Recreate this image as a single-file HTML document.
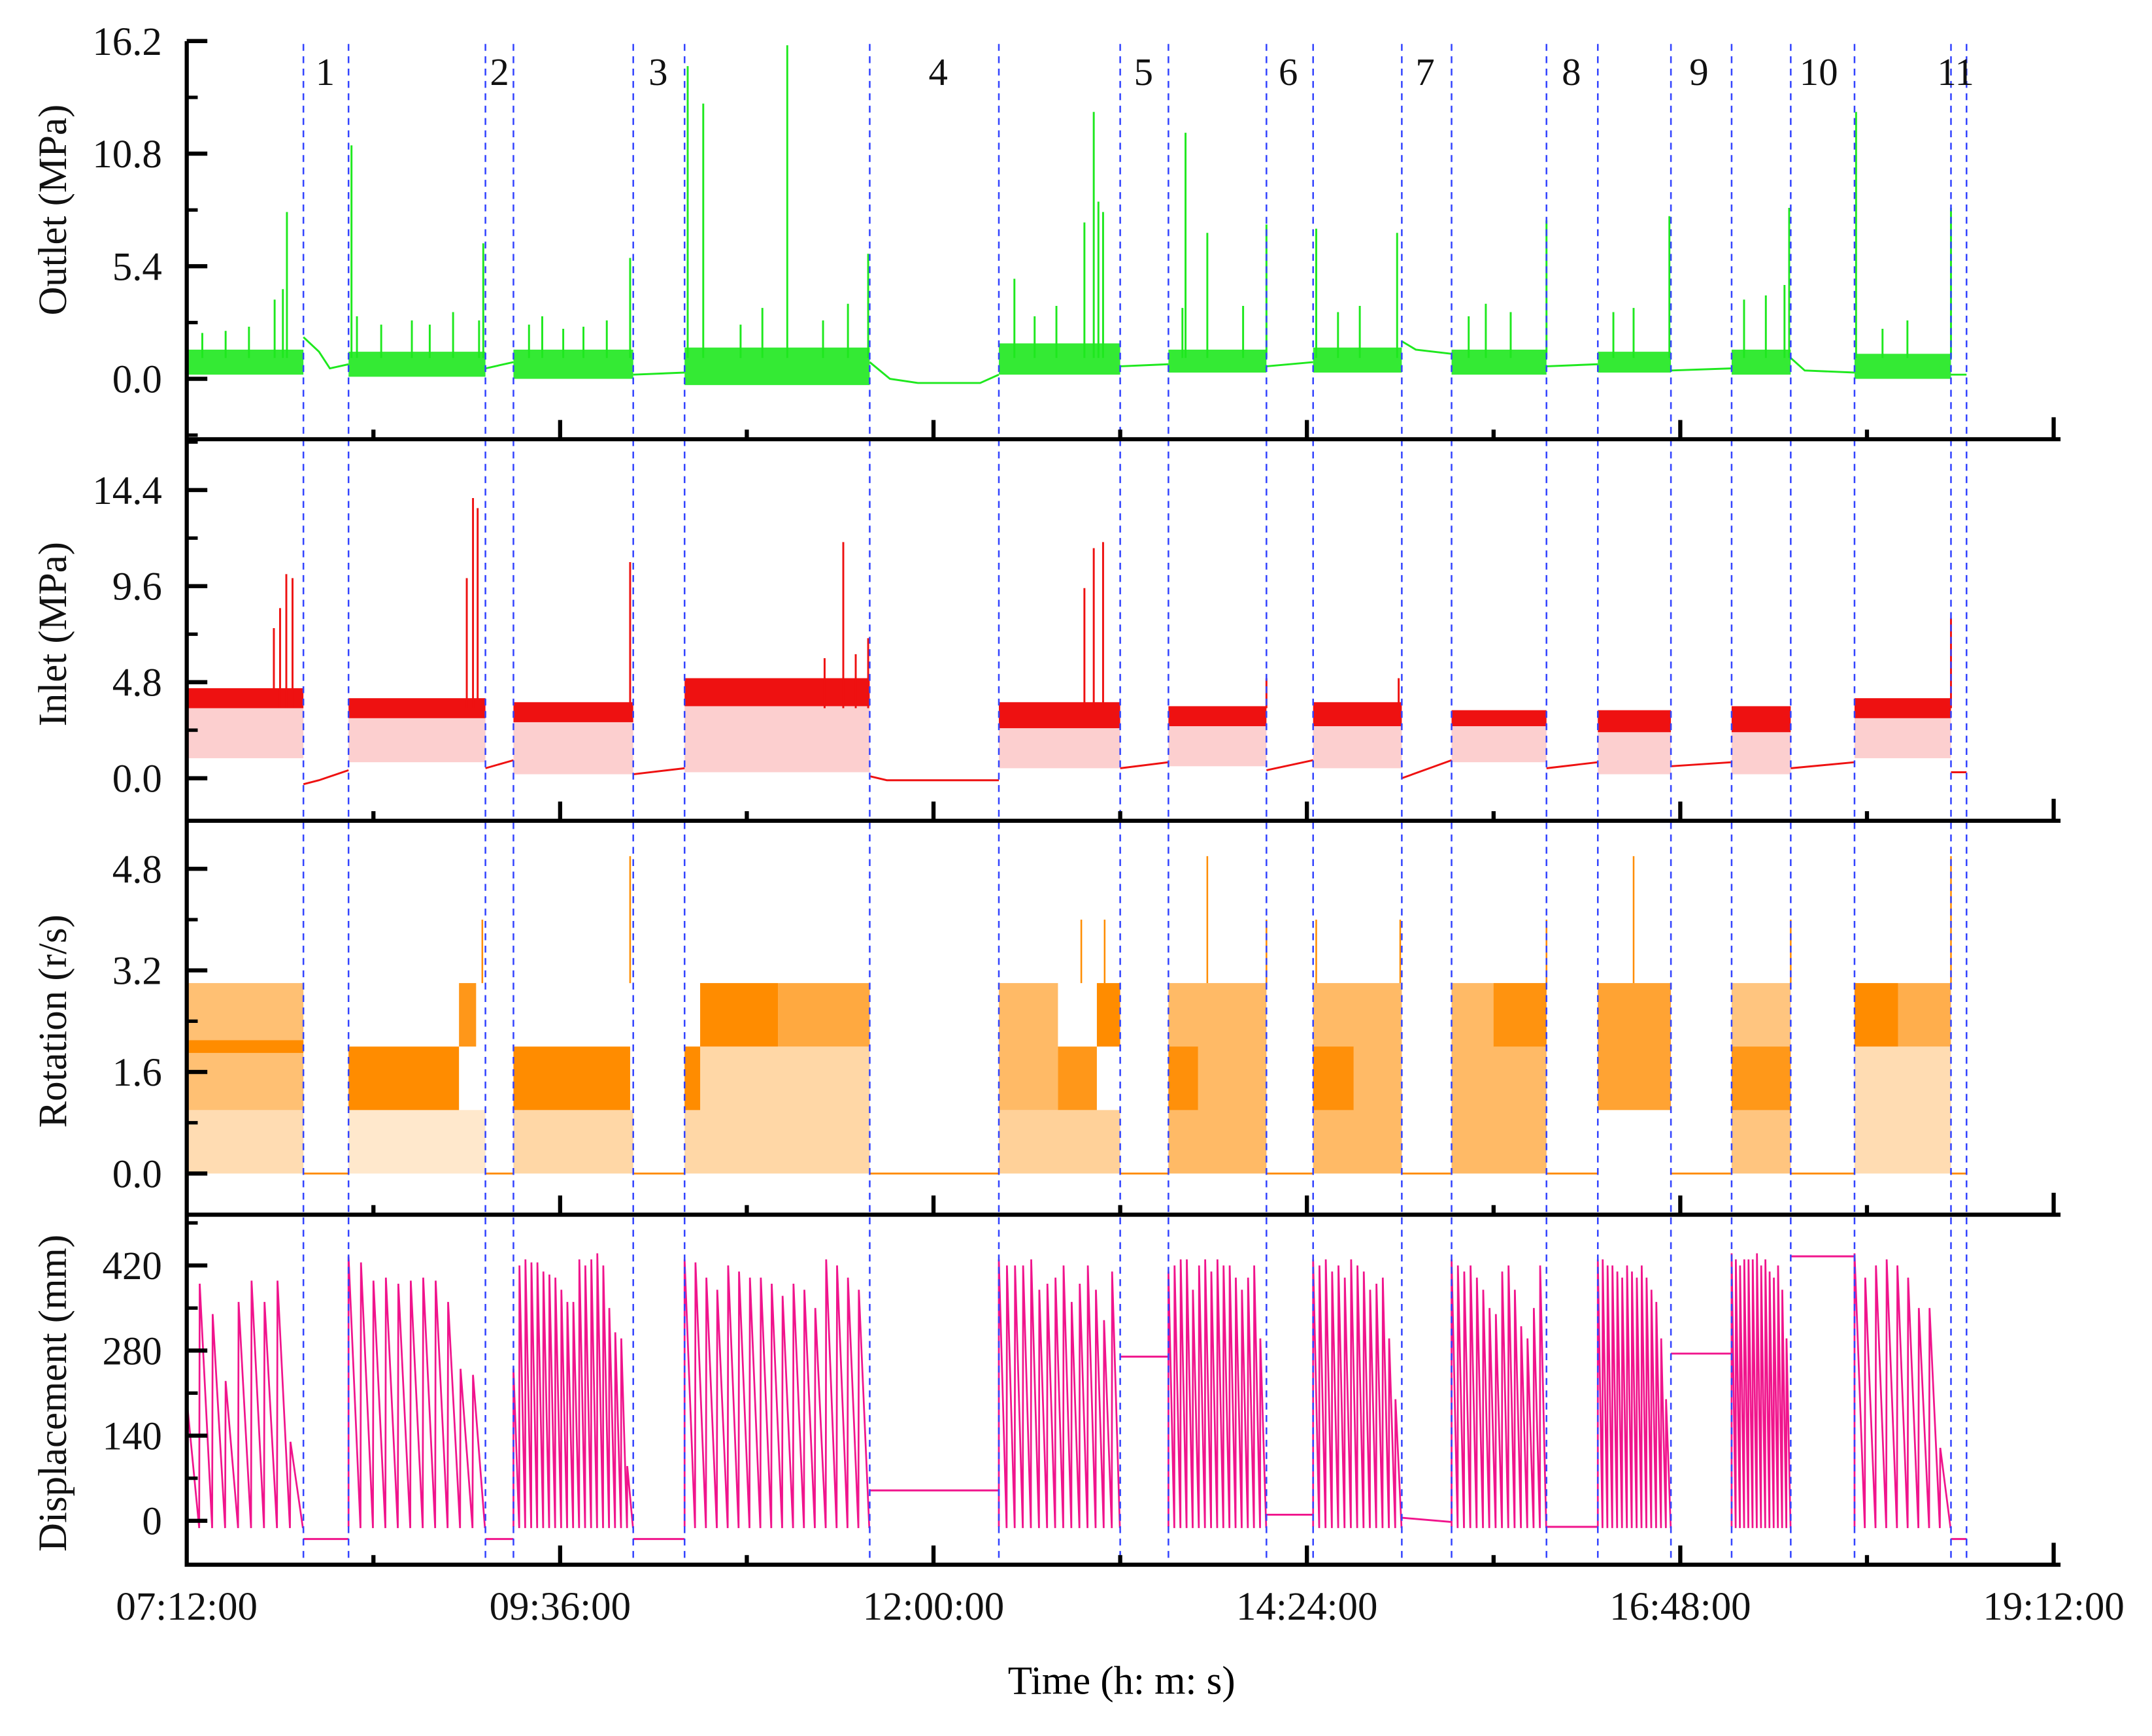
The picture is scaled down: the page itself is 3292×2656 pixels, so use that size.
<!DOCTYPE html>
<html><head><meta charset="utf-8"><style>
html,body{margin:0;padding:0;background:#fff;}
svg{display:block;font-family:"Liberation Serif",serif;}
</style></head><body>
<svg id="chart" width="3292" height="2656" viewBox="0 0 1567.6 1264.8" xmlns="http://www.w3.org/2000/svg">
<text x="817" y="1234" font-size="29" text-anchor="middle">Time (h: m: s)</text>
</svg>
<script>
// ---- data (time in hours of day) ----
const xTickLabels=["07:12:00","09:36:00","12:00:00","14:24:00","16:48:00","19:12:00"];
const xTickHours=[7.2,9.6,12.0,14.4,16.8,19.2];
const dashedHours=[7.95,8.24,9.12,9.30,10.07,10.40,11.59,12.42,13.20,13.51,14.14,14.44,15.01,15.33,15.94,16.27,16.74,17.13,17.51,17.92,18.54,18.64];
const segLabels=["1","2","3","4","5","6","7","8","9","10","11"];
const segLabelHours=[8.09,9.21,10.23,12.03,13.35,14.28,15.16,16.1,16.92,17.69,18.57];
const activeSegs=[[7.2,7.95],[8.24,9.12],[9.30,10.07],[10.40,11.59],[12.42,13.20],[13.51,14.14],[14.44,15.01],[15.33,15.94],[16.27,16.74],[17.13,17.51],[17.92,18.54]];
// outlet
const outTicks=[0.0,5.4,10.8,16.2];
const outBands=[[0.2,1.4],[0.1,1.3],[0.0,1.4],[-0.3,1.5],[0.2,1.7],[0.3,1.4],[0.3,1.5],[0.2,1.4],[0.3,1.3],[0.2,1.4],[0.0,1.2]];
const outIdle=[[[7.95,2.0],[8.05,1.3],[8.12,0.5],[8.24,0.7]],[[9.12,0.5],[9.30,0.8]],[[10.07,0.2],[10.40,0.3]],[[11.59,0.8],[11.72,0.0],[11.9,-0.2],[12.3,-0.2],[12.42,0.2]],[[13.20,0.6],[13.51,0.7]],[[14.14,0.6],[14.44,0.8]],[[15.01,1.8],[15.1,1.4],[15.33,1.2]],[[15.94,0.6],[16.27,0.7]],[[16.74,0.4],[17.13,0.5]],[[17.51,1.0],[17.6,0.4],[17.92,0.3]],[[18.54,0.2],[18.64,0.2]]];
const outSpikeT=[7.3,7.45,7.6,7.765,7.818,7.844,8.259,8.294,8.45,8.647,8.762,8.912,9.079,9.106,9.4,9.485,9.62,9.750,9.9,10.05,10.42,10.52,10.76,10.9,11.06,11.29,11.45,11.58,12.52,12.65,12.79,12.97,13.03,13.06,13.09,13.6,13.62,13.76,13.99,14.14,14.46,14.6,14.74,14.98,15.44,15.55,15.71,15.94,16.37,16.5,16.73,17.21,17.35,17.47,17.50,17.93,18.1,18.26,18.54];
const outSpikeV=[2.2,2.3,2.5,3.8,4.3,8.0,11.2,3.0,2.6,2.8,2.6,3.2,2.8,6.5,2.6,3.0,2.4,2.5,2.8,5.8,15.0,13.2,2.6,3.4,16.0,2.8,3.6,6.0,4.8,3.0,3.5,7.5,12.8,8.5,8.0,3.4,11.8,7.0,3.5,7.4,7.2,3.2,3.5,7.0,3.0,3.6,3.2,7.6,3.2,3.4,7.8,3.8,4.0,4.5,8.2,12.8,2.4,2.8,8.2];
// inlet
const inTicks=[0.0,4.8,9.6,14.4];
const inBands=[[1.0,3.5,4.5],[0.8,3.0,4.0],[0.2,2.8,3.8],[0.3,3.6,5.0],[0.5,2.5,3.8],[0.6,2.6,3.6],[0.5,2.6,3.8],[0.8,2.6,3.4],[0.2,2.3,3.4],[0.2,2.3,3.6],[1.0,3.0,4.0]];
const inIdle=[[[7.95,-0.3],[8.05,-0.1],[8.24,0.4]],[[9.12,0.5],[9.30,0.9]],[[10.07,0.2],[10.40,0.5]],[[11.59,0.1],[11.7,-0.1],[12.42,-0.1]],[[13.20,0.5],[13.51,0.8]],[[14.14,0.4],[14.44,0.9]],[[15.01,0.0],[15.33,0.9]],[[15.94,0.5],[16.27,0.8]],[[16.74,0.6],[17.13,0.8]],[[17.51,0.5],[17.92,0.8]],[[18.54,0.3],[18.64,0.3]]];
const inSpikeT=[7.76,7.8,7.84,7.88,9.0,9.04,9.07,10.05,11.3,11.42,11.5,11.58,12.97,13.03,13.09,14.14,14.99,18.54];
const inSpikeV=[7.5,8.5,10.2,10.0,10.0,14.0,13.5,10.8,6.0,11.8,6.2,7.0,9.5,11.5,11.8,5.0,5.0,8.0];
// rotation
const rotTicks=[0.0,1.6,3.2,4.8];
const rotBlockT0=[7.2,7.2,7.2,8.24,8.95,8.24,9.30,9.30,10.40,10.50,11.0,10.40,12.42,12.8,13.05,12.42,13.51,13.51,14.44,14.44,15.33,15.6,16.27,17.13,17.13,17.92,18.2,17.92];
const rotBlockT1=[7.95,7.95,7.95,8.95,9.06,9.12,10.05,10.07,10.50,11.0,11.59,11.59,12.8,13.05,13.2,13.2,14.14,13.7,15.01,14.7,15.94,15.94,16.74,17.51,17.51,18.2,18.54,18.54];
const rotBlockLo=[1,0,1.9,1,2,0,1,0,1,2,2,0,1,1,2,0,0,1,0,1,0,2,1,0,1,2,2,0];
const rotBlockHi=[3,1,2.1,2,3,1,2,1,2,3,3,2,3,2,3,1,3,2,3,2,3,3,3,3,2,3,3,2];
const rotBlockAlpha=[0.55,0.3,1,1,0.9,0.2,1,0.35,1,1,0.75,0.35,0.6,0.9,1,0.4,0.6,0.9,0.6,0.9,0.6,0.85,0.8,0.5,0.8,1,0.7,0.3];
const rotIdle=[[[7.95,0],[8.24,0]],[[9.12,0],[9.30,0]],[[10.07,0],[10.40,0]],[[11.59,0],[12.42,0]],[[13.20,0],[13.51,0]],[[14.14,0],[14.44,0]],[[15.01,0],[15.33,0]],[[15.94,0],[16.27,0]],[[16.74,0],[17.13,0]],[[17.51,0],[17.92,0]],[[18.54,0],[18.64,0]]];
const rotSpikeT=[9.1,10.05,12.95,13.1,13.76,14.14,14.46,15.0,15.94,16.5,17.51,18.54];
const rotSpikeV=[4.0,5.0,4.0,4.0,5.0,4.0,4.0,4.0,4.0,5.0,4.0,5.0];
// displacement
const dispTicks=[0,140,280,420];
const dispPeaks=[
 [200,390,340,230,360,395,360,395,130],
 [435,425,395,400,390,395,400,395,360,250,240],
 [250,420,430,425,425,410,405,400,380,360,360,430,420,430,440,420,350,310,300,90],
 [430,425,400,380,420,410,400,400,390,370,390,380,350,430,420,400,380],
 [430,420,420,420,430,380,390,400,420,360,390,420,380,330,410],
 [410,420,430,430,380,420,430,410,430,420,420,400,380,400,420,300],
 [430,420,430,410,420,400,430,420,410,380,390,400,300,200],
 [430,420,410,420,400,380,350,340,410,420,380,320,300,350,420],
 [430,430,420,420,410,400,420,410,400,420,400,380,360,300,200],
 [440,430,420,430,430,430,440,420,430,410,400,420,380,300],
 [440,400,420,430,420,400,350,350,120]
];
const dispIdle=[[[7.95,-30],[8.24,-30]],[[9.12,-30],[9.30,-30]],[[10.07,-30],[10.40,-30]],[[11.59,50],[12.42,50]],[[13.20,270],[13.51,270]],[[14.14,10],[14.44,10]],[[15.01,5],[15.33,-2]],[[15.94,-10],[16.27,-10]],[[16.74,275],[17.13,275]],[[17.51,435],[17.92,435]],[[18.54,-30],[18.64,-30]]];

// ---- scales ----
const X0=136, PXH=113.333;
function xs(t){return X0+(t-7.2)*PXH;}
function yOut(v){return 276-15.19*v;}
function yIn(v){return 567-14.58*v;}
function yRot(v){return 855-46.25*v;}
function yDisp(v){return 1108-0.4429*v;}
const NS="http://www.w3.org/2000/svg";
const svg=document.getElementById('chart');
function mk(tag,attrs,parent){const e=document.createElementNS(NS,tag);for(const k in attrs)e.setAttribute(k,attrs[k]);(parent||svg).appendChild(e);return e;}
function grp(name){const g=document.createElementNS(NS,'g');svg.appendChild(g);return g;}
function idleLines(g,idle,yf,color){
  idle.forEach(seg=>{
    const pl=mk('polyline',{points:seg.map(p=>xs(p[0])+','+yf(p[1])).join(' '),fill:'none',stroke:color,'stroke-width':1.4},g);
    
    
  });
}

function drawPanel(name,color,yf,bands3,bands2,idle,spT,spV){
  const g=grp(name+'-series');
  activeSegs.forEach((s,i)=>{
    if(bands3){const b=bands3[i];
      const r1=mk('rect',{x:xs(s[0]),y:yf(b[1]),width:xs(s[1])-xs(s[0]),height:yf(b[0])-yf(b[1]),fill:color,opacity:0.2},g);
      
      
      const r2=mk('rect',{x:xs(s[0]),y:yf(b[2]),width:xs(s[1])-xs(s[0]),height:yf(b[1])-yf(b[2]),fill:color},g);
      
      
    } else if(bands2){const b=bands2[i];
      const r=mk('rect',{x:xs(s[0]),y:yf(b[1]),width:xs(s[1])-xs(s[0]),height:yf(b[0])-yf(b[1]),fill:color,opacity:0.9},g);
      
      
    }
  });
  idleLines(g,idle,yf,color);
  spT.forEach((t,i)=>{
    const base=bands3?yf(3.5):yf(1.0);
    const l=mk('line',{x1:xs(t),x2:xs(t),y1:base,y2:yf(spV[i]),stroke:color,'stroke-width':1.4},g);
    
    
  });
}
drawPanel('outlet','#1ee81e',yOut,null,outBands,outIdle,outSpikeT,outSpikeV);
drawPanel('inlet','#ee1111',yIn,inBands,null,inIdle,inSpikeT,inSpikeV);

// rotation
(function(){
  const g=grp('rotation-series');const c='#ff8c00';
  rotBlockT0.forEach((t0,i)=>{
    const r=mk('rect',{x:xs(t0),y:yRot(rotBlockHi[i]),width:xs(rotBlockT1[i])-xs(t0),height:yRot(rotBlockLo[i])-yRot(rotBlockHi[i]),fill:c,opacity:rotBlockAlpha[i]},g);
    
    
  });
  idleLines(g,rotIdle,yRot,c);
  rotSpikeT.forEach((t,i)=>{
    const l=mk('line',{x1:xs(t),x2:xs(t),y1:yRot(3),y2:yRot(rotSpikeV[i]),stroke:c,'stroke-width':1.2},g);
    
    
  });
})();

// displacement
(function(){
  const g=grp('displacement-series');const c='#f0148c';
  activeSegs.forEach((s,i)=>{
    const pk=dispPeaks[i];const n=pk.length;const dt=(s[1]-s[0])/n;
    let d='M'+xs(s[0])+','+yDisp(-10);
    pk.forEach((p,j)=>{const t=s[0]+j*dt;d+=' L'+xs(t)+','+yDisp(p)+' L'+xs(t+dt*0.96)+','+yDisp(-12);});
    const path=mk('path',{d:d,fill:'none',stroke:c,'stroke-width':1.3},g);
    
    
  });
  idleLines(g,dispIdle,yDisp,c);
})();

// dashed lines
(function(){
  const g=grp('segment-dividers');
  dashedHours.forEach(t=>{
    const l=mk('line',{x1:xs(t),x2:xs(t),y1:32,y2:1140,stroke:'#3344ff','stroke-width':1.2,'stroke-dasharray':'5 4'},g);
    
    
  });
  segLabels.forEach((s,i)=>{
    const tx=mk('text',{x:xs(segLabelHours[i]),y:62,'font-size':28,'text-anchor':'middle',fill:'#111'},g);
    tx.textContent=s;
    
    
  });
})();

// axes
(function(){
  const g=grp('axes');const K='#000';
  const panels=[
    {name:'outlet',top:30,bot:320,ticks:outTicks,yf:yOut,lab:'Outlet (MPa)',fmt:v=>v.toFixed(1),minor:2.7},
    {name:'inlet',top:320,bot:598,ticks:inTicks,yf:yIn,lab:'Inlet (MPa)',fmt:v=>v.toFixed(1),minor:2.4},
    {name:'rotation',top:598,bot:885,ticks:rotTicks,yf:yRot,lab:'Rotation (r/s)',fmt:v=>v.toFixed(1),minor:0.8},
    {name:'displacement',top:885,bot:1140,ticks:dispTicks,yf:yDisp,lab:'Displacement (mm)',fmt:v=>String(v),minor:70}
  ];
  const ax=mk('line',{x1:X0,x2:X0,y1:30,y2:1141,stroke:K,'stroke-width':3},g);
  
  
  panels.forEach((p,pi)=>{
    const b=mk('line',{x1:X0-1.5,x2:1501,y1:p.bot,y2:p.bot,stroke:K,'stroke-width':3},g);
    
    
    for(let k=1;k<=10;k++){const t=7.2+k*1.2;const major=k%2===0;
      const len=(k===10)?16:(major?14:7);
      const l=mk('line',{x1:xs(t),x2:xs(t),y1:p.bot,y2:p.bot-len,stroke:K,'stroke-width':3},g);
      
      
    }
    p.ticks.forEach((v,i)=>{
      const y=p.yf(v);
      const l=mk('line',{x1:X0,x2:X0+15,y1:y,y2:y,stroke:K,'stroke-width':3},g);
      
      
      const ym=p.yf(v+p.minor);
      if(ym>p.top+2){const m=mk('line',{x1:X0,x2:X0+8,y1:ym,y2:ym,stroke:K,'stroke-width':2.5},g);
        
        }
      const tx=mk('text',{x:118,y:y+10,'font-size':29,'text-anchor':'end',fill:'#111'},g);
      tx.textContent=p.fmt(v);
      
      
    });
    const ym2=p.yf(p.ticks[0]-p.minor);
    if(ym2<p.bot-2){const m=mk('line',{x1:X0,x2:X0+8,y1:ym2,y2:ym2,stroke:K,'stroke-width':2.5},g);
      
      }
    const cy=(p.yf(p.ticks[0])+p.yf(p.ticks[3]))/2;
    const tl=mk('text',{x:0,y:0,'font-size':29,'text-anchor':'middle',fill:'#111',transform:'translate(48,'+cy+') rotate(-90)'},g);
    tl.textContent=p.lab;
    
    
  });
  xTickLabels.forEach((s,i)=>{
    const tx=mk('text',{x:xs(xTickHours[i]),y:1180,'font-size':29,'text-anchor':'middle',fill:'#111'},g);
    tx.textContent=s;
    
    
  });
})();
</script>
</body></html>
